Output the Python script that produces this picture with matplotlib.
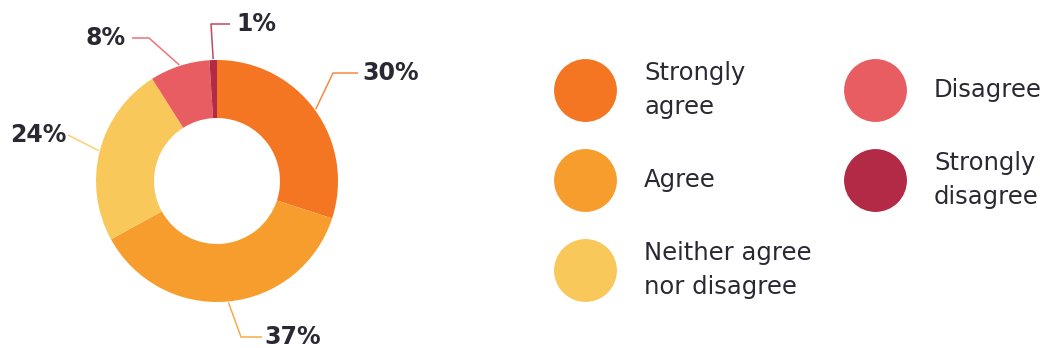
import numpy as np
import matplotlib.pyplot as plt
import matplotlib as mpl

# survey answers, clockwise from 12 o'clock
labels = ['Strongly\nagree', 'Agree', 'Neither agree\nnor disagree', 'Disagree', 'Strongly\ndisagree']
values = [30, 37, 24, 8, 1]
colors = ['#F47623', '#F79D2D', '#F9C85A', '#E85D62', '#B22A45']
pct_text = ['30%', '37%', '24%', '8%', '1%']

mpl.rcParams['font.family'] = ['DejaVu Sans']
txt_col = '#2A2833'

W, H = 1040, 348
f = plt.figure(figsize=(W / 100, H / 100), dpi=100)
ax = f.add_axes([0, 0, 1, 1])

cx, cy, R = 217, H - 181, 121
wedges, _ = ax.pie(values, colors=colors, startangle=90, counterclock=False,
                   radius=R, center=(cx, cy), frame=True,
                   wedgeprops=dict(width=58, linewidth=0))
ax.set_xlim(0, W)
ax.set_ylim(0, H)
ax.set_aspect('equal')
ax.axis('off')

# leader lines: elbow point, horizontal end, text x, alignment (layout only)
elbow = [(333, H - 73), (241, H - 337), (68, H - 135), (149, H - 38), (211, H - 24)]
tail = [358, 262, 68, 132, 230]
tx = [362, 264, 67, 126, 236]
ha = ['left', 'left', 'right', 'right', 'left']

for i, w in enumerate(wedges):
    ang = np.deg2rad((w.theta1 + w.theta2) / 2)
    x0 = cx + (R + 1) * np.cos(ang)
    y0 = cy + (R + 1) * np.sin(ang)
    ex, ey = elbow[i]
    ax.plot([x0, ex, tail[i]], [y0, ey, ey], color=colors[i], lw=1.1, alpha=0.85,
            solid_capstyle='butt')
    ax.text(tx[i], ey, pct_text[i], ha=ha[i], va='center', fontsize=17,
            fontweight='bold', color=txt_col)

# legend
lx = [585, 585, 585, 875, 875]
ly = [H - 90, H - 180, H - 270, H - 90, H - 180]
for i in range(len(labels)):
    ax.scatter([lx[i]], [ly[i]], s=2050, color=colors[i], linewidths=0)
    ax.text(lx[i] + 59, ly[i], labels[i], ha='left', va='center', fontsize=17.5,
            color=txt_col, linespacing=1.5)

f.savefig('out.png', dpi=100)
